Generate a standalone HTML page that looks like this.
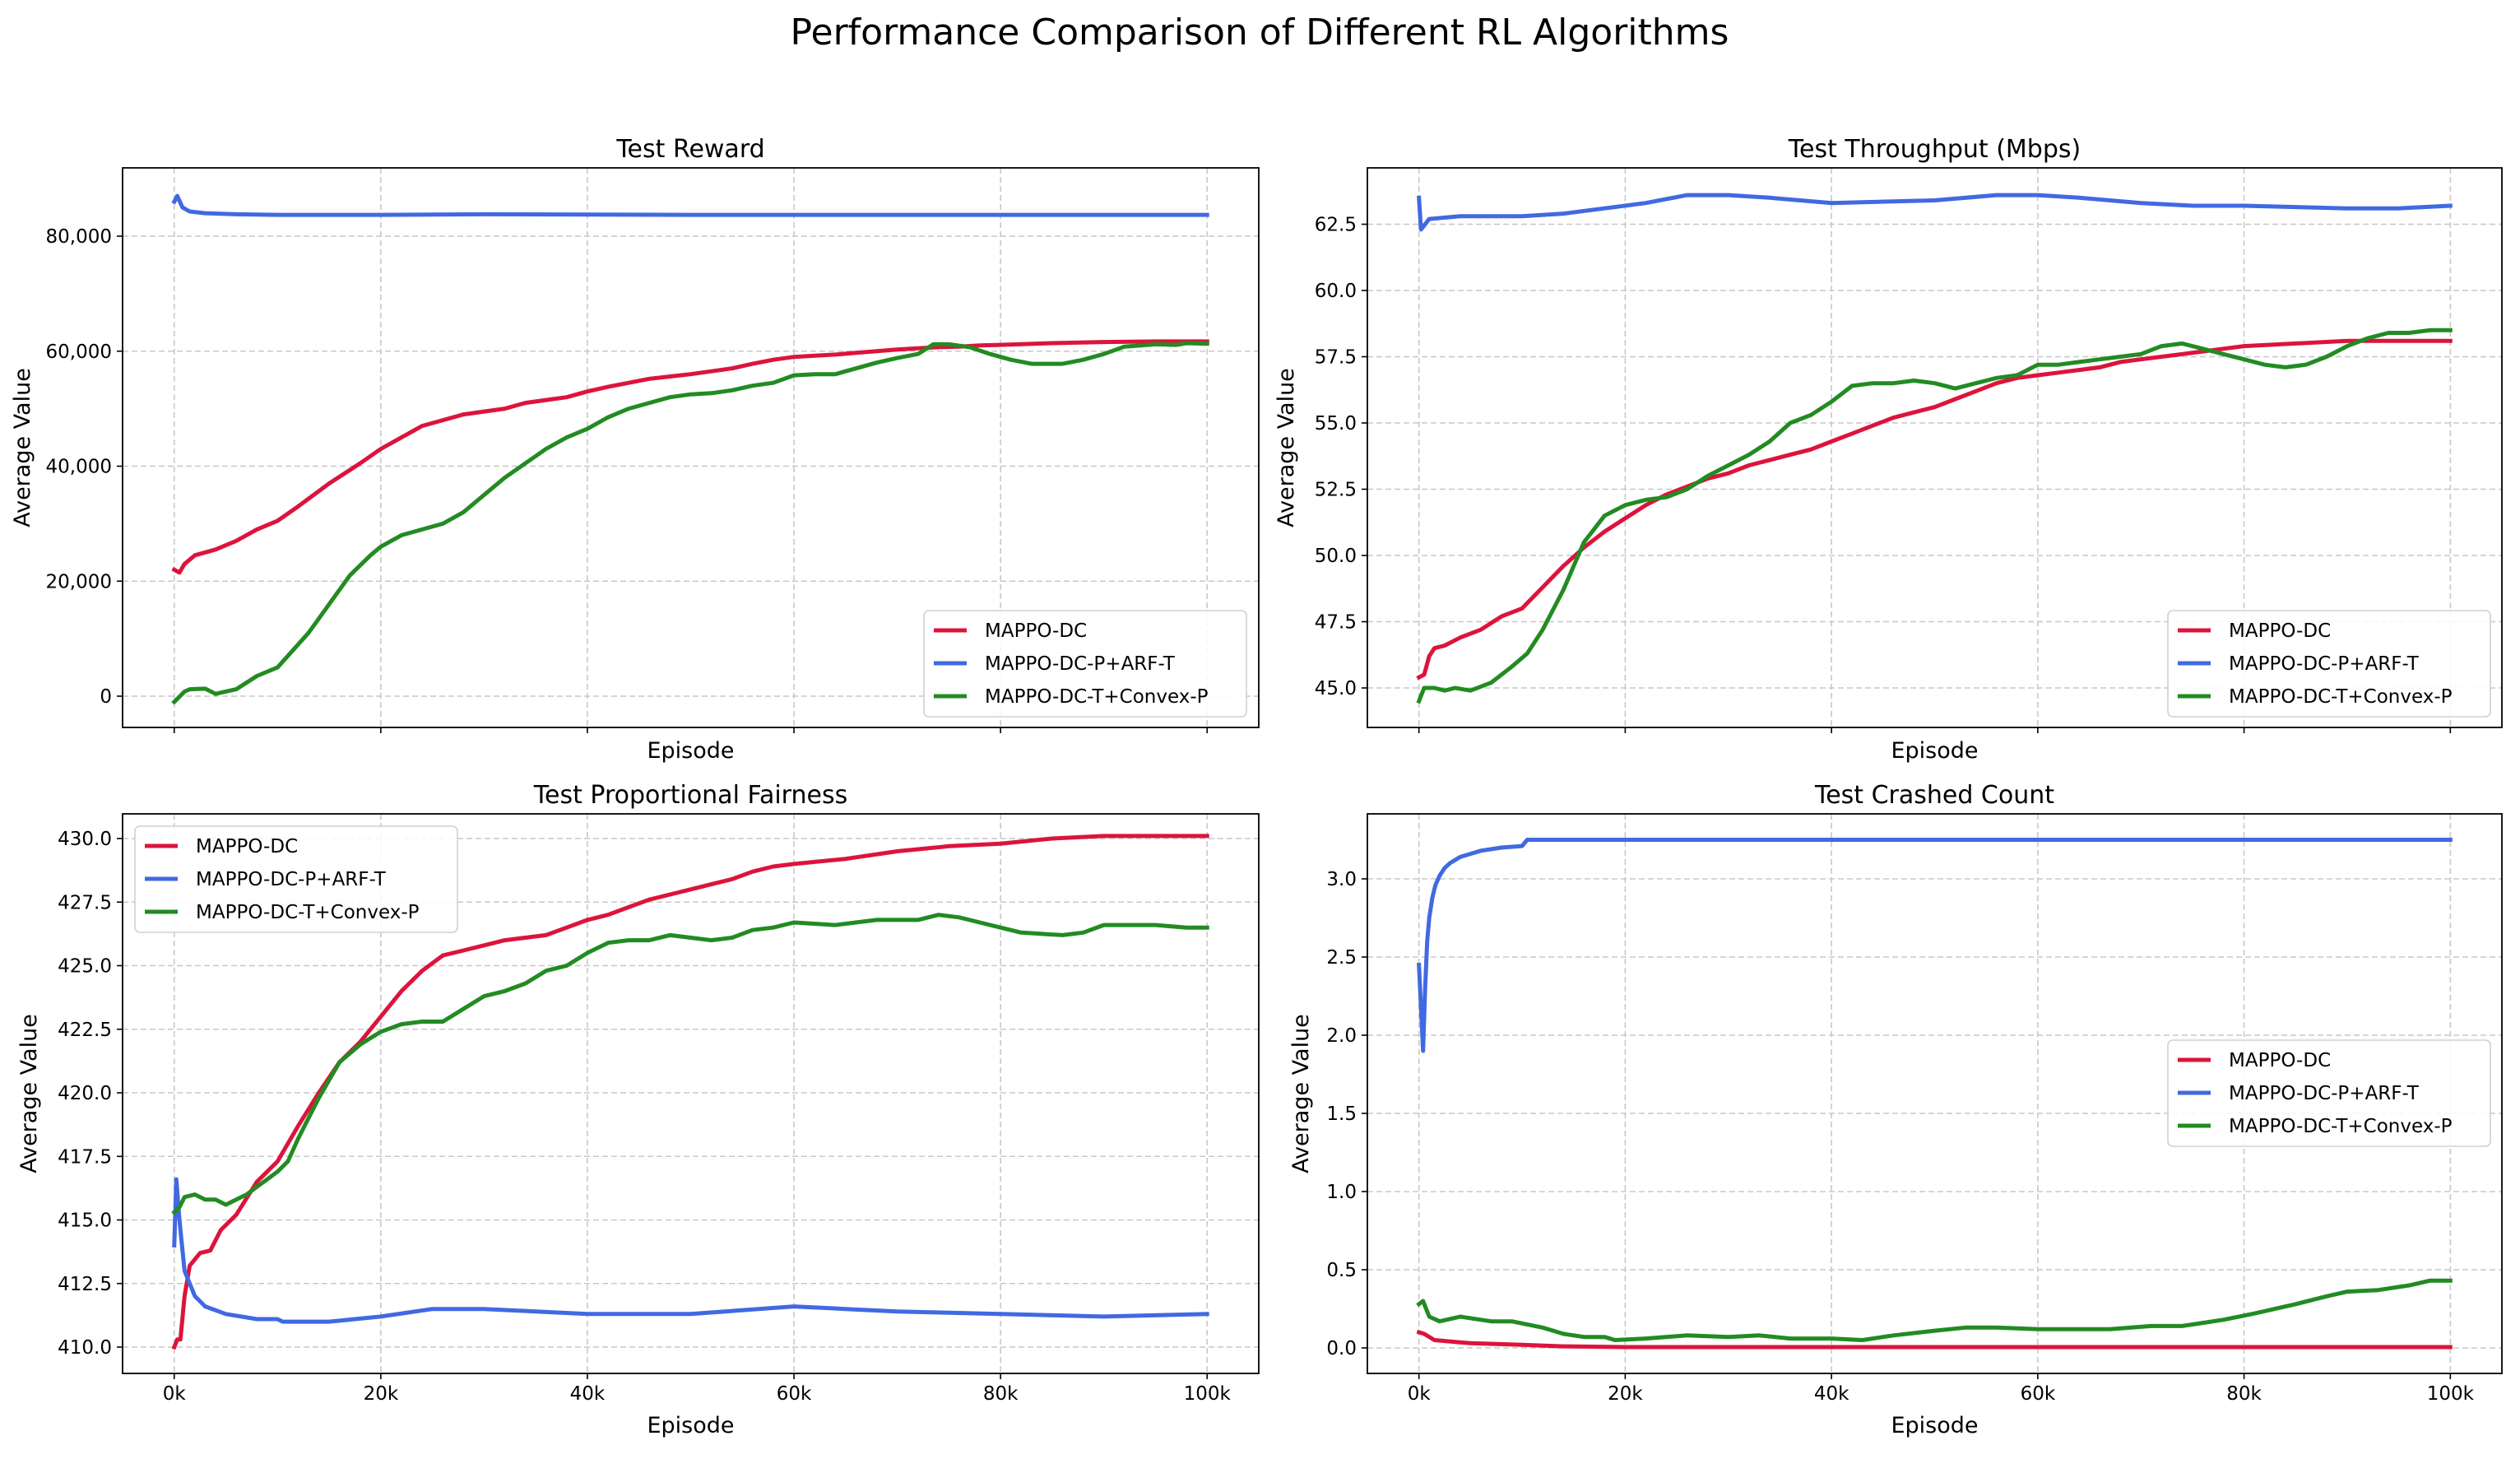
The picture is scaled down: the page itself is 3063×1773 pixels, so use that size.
<!DOCTYPE html>
<html><head><meta charset="utf-8"><title>Performance Comparison</title>
<style>
html,body{margin:0;padding:0;background:#fff;}
svg{display:block;font-family:"DejaVu Sans","Liberation Sans",sans-serif;}
</style></head>
<body>
<svg id="fig" width="3063" height="1773" viewBox="0 0 3063 1773" xmlns="http://www.w3.org/2000/svg">
<rect width="3063" height="1773" fill="#fff"/>
<text x="1531" y="54" font-size="44" text-anchor="middle">Performance Comparison of Different RL Algorithms</text>
</svg>
<script>
// ---------- data (episodes in thousands) ----------
const seriesNames = ["MAPPO-DC","MAPPO-DC-P+ARF-T","MAPPO-DC-T+Convex-P"];
const xTickLabels = ["0k","20k","40k","60k","80k","100k"];
const xTickValues = [0,20,40,60,80,100];

const rewardRedX = [0,0.5,1,2,3,4,6,8,10,12,15,18,20,22,24,26,28,30,32,34,36,38,40,42,44,46,48,50,52,54,56,58,60,62,64,66,68,70,72,74,76,78,80,85,90,95,100];
const rewardRedY = [22,21.5,23,24.5,25,25.5,27,29,30.5,33,37,40.5,43,45,47,48,49,49.5,50,51,51.5,52,53,53.8,54.5,55.2,55.6,56,56.5,57,57.8,58.5,59,59.2,59.4,59.7,60,60.3,60.5,60.7,60.8,61,61.1,61.4,61.6,61.7,61.7];
const rewardBlueX = [0,0.3,0.8,1.5,3,6,10,20,30,50,100];
const rewardBlueY = [86,87,85,84.3,84,83.8,83.7,83.7,83.8,83.7,83.7];
const rewardGreenX = [0,1,1.5,3,4,6,8,10,11,13,15,17,19,20,22,24,26,28,30,32,34,36,38,40,42,44,46,48,50,52,54,56,58,60,62,64,66,68,70,72,73.5,75,77,79,81,83,86,88,90,92,95,97,98,100];
const rewardGreenY = [-1,0.8,1.2,1.3,0.4,1.2,3.5,5,7,11,16,21,24.5,26,28,29,30,32,35,38,40.5,43,45,46.5,48.5,50,51,52,52.5,52.7,53.2,54,54.5,55.8,56,56,57,58,58.8,59.5,61.2,61.2,60.7,59.5,58.5,57.8,57.8,58.5,59.5,60.8,61.2,61.1,61.4,61.3];
const rewardTicks = [0,20,40,60,80];
const rewardTickLabels = ["0","20,000","40,000","60,000","80,000"];

const thrRedX = [0,0.5,1,1.5,2.5,4,6,8,10,12,14,16,18,20,22,24,26,28,30,32,34,36,38,40,42,44,46,48,50,52,54,56,58,60,62,64,66,68,70,72,74,76,78,80,85,90,95,100];
const thrRedY = [45.4,45.5,46.2,46.5,46.6,46.9,47.2,47.7,48,48.8,49.6,50.3,50.9,51.4,51.9,52.3,52.6,52.9,53.1,53.4,53.6,53.8,54,54.3,54.6,54.9,55.2,55.4,55.6,55.9,56.2,56.5,56.7,56.8,56.9,57,57.1,57.3,57.4,57.5,57.6,57.7,57.8,57.9,58,58.1,58.1,58.1];
const thrBlueX = [0,0.2,1,4,10,14,18,22,26,30,34,40,50,56,60,64,70,75,80,90,95,100];
const thrBlueY = [63.5,62.3,62.7,62.8,62.8,62.9,63.1,63.3,63.6,63.6,63.5,63.3,63.4,63.6,63.6,63.5,63.3,63.2,63.2,63.1,63.1,63.2];
const thrGreenX = [0,0.5,1.5,2.5,3.5,5,7,9,10.5,12,14,16,18,20,22,24,26,28,30,32,34,36,38,40,42,44,46,48,50,52,54,56,58,60,62,64,66,68,70,72,74,76,78,80,82,84,86,88,90,92,94,96,98,100];
const thrGreenY = [44.5,45,45,44.9,45,44.9,45.2,45.8,46.3,47.2,48.7,50.5,51.5,51.9,52.1,52.2,52.5,53,53.4,53.8,54.3,55,55.3,55.8,56.4,56.5,56.5,56.6,56.5,56.3,56.5,56.7,56.8,57.2,57.2,57.3,57.4,57.5,57.6,57.9,58,57.8,57.6,57.4,57.2,57.1,57.2,57.5,57.9,58.2,58.4,58.4,58.5,58.5];
const thrTicks = [45,47.5,50,52.5,55,57.5,60,62.5];
const thrTickLabels = ["45.0","47.5","50.0","52.5","55.0","57.5","60.0","62.5"];

const fairRedX = [0,0.3,0.6,1,1.5,2.5,3.5,4.5,6,8,10,12,14,16,18,20,22,24,26,28,30,32,34,36,38,40,42,44,46,48,50,52,54,56,58,60,65,70,75,80,85,90,100];
const fairRedY = [410,410.3,410.3,412,413.2,413.7,413.8,414.6,415.2,416.5,417.3,418.7,420,421.2,422,423,424,424.8,425.4,425.6,425.8,426,426.1,426.2,426.5,426.8,427,427.3,427.6,427.8,428,428.2,428.4,428.7,428.9,429,429.2,429.5,429.7,429.8,430,430.1,430.1];
const fairBlueX = [0,0.2,0.5,1,2,3,5,8,10,10.5,15,20,25,30,35,40,50,60,65,70,80,90,100];
const fairBlueY = [414,416.6,415,413,412,411.6,411.3,411.1,411.1,411,411,411.2,411.5,411.5,411.4,411.3,411.3,411.6,411.5,411.4,411.3,411.2,411.3];
const fairGreenX = [0,0.5,1,2,3,4,5,6,7,8,9,10,11,12,14,16,18,20,22,24,26,28,30,32,34,36,38,40,42,44,46,48,50,52,54,56,58,60,64,68,72,74,76,78,80,82,86,88,90,95,98,100];
const fairGreenY = [415.3,415.5,415.9,416,415.8,415.8,415.6,415.8,416,416.3,416.6,416.9,417.3,418.2,419.8,421.2,421.9,422.4,422.7,422.8,422.8,423.3,423.8,424,424.3,424.8,425,425.5,425.9,426,426,426.2,426.1,426,426.1,426.4,426.5,426.7,426.6,426.8,426.8,427,426.9,426.7,426.5,426.3,426.2,426.3,426.6,426.6,426.5,426.5];
const fairTicks = [410,412.5,415,417.5,420,422.5,425,427.5,430];
const fairTickLabels = ["410.0","412.5","415.0","417.5","420.0","422.5","425.0","427.5","430.0"];

const crashRedX = [0,0.5,1.5,5,10,14,20,100];
const crashRedY = [0.1,0.09,0.05,0.03,0.02,0.01,0.005,0.005];
const crashBlueX = [0,0.4,0.6,0.8,1.0,1.3,1.6,2,2.5,3,4,5,6,8,10,10.5,20,100];
const crashBlueY = [2.45,1.9,2.3,2.6,2.75,2.88,2.96,3.02,3.07,3.1,3.14,3.16,3.18,3.2,3.21,3.25,3.25,3.25];
const crashGreenX = [0,0.4,1,2,4,7,9,12,14,16,18,19,22,26,30,33,36,40,43,46,50,53,56,60,64,67,71,74,78,81,85,88,90,93,96,98,100];
const crashGreenY = [0.28,0.3,0.2,0.17,0.2,0.17,0.17,0.13,0.09,0.07,0.07,0.05,0.06,0.08,0.07,0.08,0.06,0.06,0.05,0.08,0.11,0.13,0.13,0.12,0.12,0.12,0.14,0.14,0.18,0.22,0.28,0.33,0.36,0.37,0.4,0.43,0.43];
const crashTicks = [0,0.5,1,1.5,2,2.5,3];
const crashTickLabels = ["0.0","0.5","1.0","1.5","2.0","2.5","3.0"];

// ---------- drawing ----------
const NS = "http://www.w3.org/2000/svg";
const svg = document.getElementById("fig");
const COLORS = ["#dc143c","#4169e1","#228b22"];
function mk(tag, attrs, parent){
  const e = document.createElementNS(NS, tag);
  for (const k in attrs) e.setAttribute(k, attrs[k]);
  (parent||svg).appendChild(e);
  return e;
}

function panel(cfg){
  const g = mk("g", {});
  
  
  const L = cfg.left, R = cfg.right, T = cfg.top, B = cfg.bottom;
  const W = R - L;
  const sx = v => L + (v + 5) / 110 * W;
  const sy = v => cfg.y0px - (v - cfg.y0) * cfg.pxPerUnit;
  xTickValues.forEach((v, i) => {
    const gl = mk("line", {x1: sx(v), x2: sx(v), y1: T, y2: B, stroke: "#c8c8c8", "stroke-width": 1.6, "stroke-dasharray": "7,4"}, g);
    
    
    const tk = mk("line", {x1: sx(v), x2: sx(v), y1: B, y2: B + 7, stroke: "#000", "stroke-width": 1.6}, g);
    
    
    if (cfg.showXLabels) {
      const t = mk("text", {x: sx(v), y: B + 32, "font-size": 23, "text-anchor": "middle"}, g);
      t.textContent = xTickLabels[i];
      
      
    }
  });
  cfg.ticks.forEach((v, i) => {
    const y = sy(v);
    const gl = mk("line", {x1: L, x2: R, y1: y, y2: y, stroke: "#c8c8c8", "stroke-width": 1.6, "stroke-dasharray": "7,4"}, g);
    
    
    const tk = mk("line", {x1: L - 7, x2: L, y1: y, y2: y, stroke: "#000", "stroke-width": 1.6}, g);
    
    
    const t = mk("text", {x: L - 13, y: y + 8, "font-size": 23, "text-anchor": "end"}, g);
    t.textContent = cfg.tickLabels[i];
    
    
  });
  const cid = "clip-" + cfg.name;
  const cp = mk("clipPath", {id: cid}, g);
  mk("rect", {x: L, y: T, width: W, height: B - T}, cp);
  cfg.series.forEach((s, i) => {
    const d = s[0].map((x, j) => (j ? "L" : "M") + sx(x).toFixed(1) + "," + sy(s[1][j]).toFixed(1)).join(" ");
    const p = mk("path", {d: d, fill: "none", stroke: COLORS[i], "stroke-width": 5, "stroke-linejoin": "round", "stroke-linecap": "square", "clip-path": "url(#" + cid + ")"}, g);
    
    
  });
  const fr = mk("rect", {x: L, y: T, width: W, height: B - T, fill: "none", stroke: "#000", "stroke-width": 1.8}, g);
  
  
  const ti = mk("text", {x: (L + R) / 2, y: T - 13, "font-size": 30, "text-anchor": "middle"}, g);
  ti.textContent = cfg.title;
  
  
  const xl = mk("text", {x: (L + R) / 2, y: cfg.xlabelY, "font-size": 27, "text-anchor": "middle"}, g);
  xl.textContent = "Episode";
  
  
  const yc = (T + B) / 2;
  const yl = mk("text", {x: cfg.ylabelX, y: yc, "font-size": 27, "text-anchor": "middle", transform: "rotate(-90 " + cfg.ylabelX + " " + yc + ")"}, g);
  yl.textContent = "Average Value";
  
  
  const lg = mk("g", {}, g);
  
  
  const lx = cfg.legend[0], ly = cfg.legend[1];
  mk("rect", {x: lx, y: ly, width: 392, height: 129, rx: 6, fill: "#fff", "fill-opacity": 0.85, stroke: "#d0d0d0", "stroke-width": 1.6}, lg);
  seriesNames.forEach((n, i) => {
    const yy = ly + 24 + i * 40;
    const ln = mk("line", {x1: lx + 12, x2: lx + 52, y1: yy, y2: yy, stroke: COLORS[i], "stroke-width": 5}, lg);
    
    
    const t = mk("text", {x: lx + 74, y: yy + 8, "font-size": 23}, lg);
    t.textContent = n;
    
    
  });
}

panel({name: "test-reward-panel", title: "Test Reward", left: 149, right: 1530, top: 204, bottom: 884,
  y0: 0, y0px: 846, pxPerUnit: 6.9875, ticks: rewardTicks, tickLabels: rewardTickLabels,
  showXLabels: false, xlabelY: 921, ylabelX: 36, legend: [1123, 742],
  series: [[rewardRedX, rewardRedY], [rewardBlueX, rewardBlueY], [rewardGreenX, rewardGreenY]]});
panel({name: "test-throughput-panel", title: "Test Throughput (Mbps)", left: 1662, right: 3041, top: 204, bottom: 884,
  y0: 45, y0px: 836, pxPerUnit: 32.2, ticks: thrTicks, tickLabels: thrTickLabels,
  showXLabels: false, xlabelY: 921, ylabelX: 1572, legend: [2635, 742],
  series: [[thrRedX, thrRedY], [thrBlueX, thrBlueY], [thrGreenX, thrGreenY]]});
panel({name: "test-fairness-panel", title: "Test Proportional Fairness", left: 149, right: 1530, top: 989, bottom: 1669,
  y0: 410, y0px: 1637, pxPerUnit: 30.9, ticks: fairTicks, tickLabels: fairTickLabels,
  showXLabels: true, xlabelY: 1741, ylabelX: 44, legend: [164, 1004],
  series: [[fairRedX, fairRedY], [fairBlueX, fairBlueY], [fairGreenX, fairGreenY]]});
panel({name: "test-crashed-panel", title: "Test Crashed Count", left: 1662, right: 3041, top: 989, bottom: 1669,
  y0: 0, y0px: 1638, pxPerUnit: 190, ticks: crashTicks, tickLabels: crashTickLabels,
  showXLabels: true, xlabelY: 1741, ylabelX: 1590, legend: [2635, 1264],
  series: [[crashRedX, crashRedY], [crashBlueX, crashBlueY], [crashGreenX, crashGreenY]]});
</script>
</body></html>
